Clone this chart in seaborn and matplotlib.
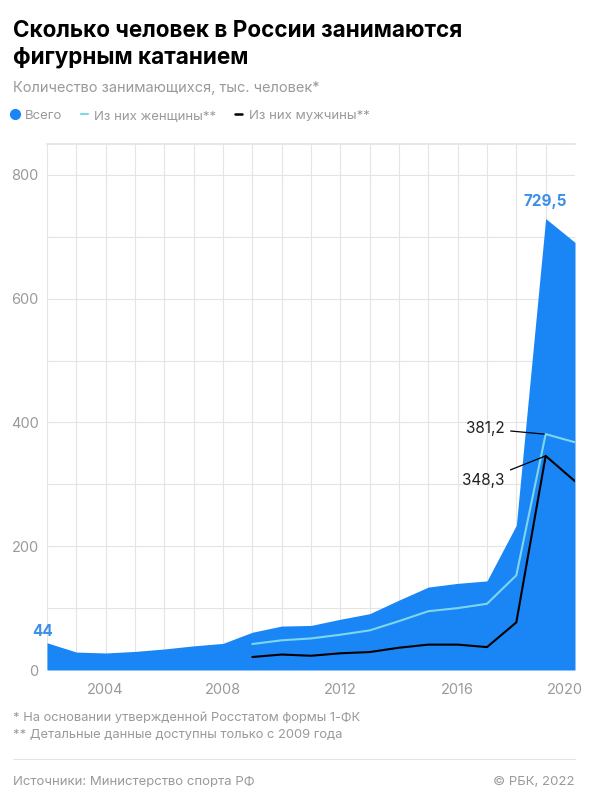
import matplotlib.pyplot as plt
import matplotlib.transforms as mtransforms
import pandas as pd
import seaborn as sns
from matplotlib.lines import Line2D
from matplotlib.ticker import MultipleLocator

years = list(range(2002, 2021))
total = [44, 29, 27.5, 30, 34, 39, 43, 61, 71, 72, 82, 91, 113, 134, 140, 144, 234, 729.5, 691]
years_detail = list(range(2009, 2021))
women = [42, 48, 51, 57, 64, 79, 95, 100, 107, 153, 381.2, 368]
men = [21, 25, 23, 27, 29, 36, 41, 41, 37, 77, 346, 305]
xtick_years = [2004, 2008, 2012, 2016, 2020]

df = pd.DataFrame({'year': years, 'total': total})
df_d = pd.DataFrame({'year': years_detail, 'women': women, 'men': men})

BLUE = '#1a86f6'
CYAN = '#7dd6ea'
GRAY = '#9a9a9a'
GRID = '#e4e4e4'

sns.set_theme(style='white')
plt.rcParams['font.family'] = ['Inter', 'DejaVu Sans']

fig = plt.figure(figsize=(5.9, 8.06), dpi=100)
ax = fig.add_axes([47/590, 1-670/806, (575-47)/590, (670-144)/806])

ax.fill_between(df['year'], df['total'], color=BLUE, lw=0, zorder=2)
sns.lineplot(data=df_d, x='year', y='women', ax=ax, color=CYAN, lw=1.5, zorder=3)
sns.lineplot(data=df_d, x='year', y='men', ax=ax, color='black', lw=1.5, zorder=3)

ax.set_xlim(2002, 2020)
ax.set_ylim(0, 850)
ax.xaxis.set_minor_locator(MultipleLocator(1))
ax.yaxis.set_major_locator(MultipleLocator(200))
ax.yaxis.set_minor_locator(MultipleLocator(100))
ax.set_xticks(xtick_years)
ax.set_xticklabels([str(y) for y in xtick_years])
ax.grid(which='both', color=GRID, lw=0.8, zorder=0)
ax.set_axisbelow(True)
ax.tick_params(which='both', length=0, colors=GRAY, labelsize=10.5)
ax.tick_params(axis='x', pad=9)
ax.tick_params(axis='y', pad=6)
# last year label sits a bit to the left so it stays inside the picture
last = ax.get_xticklabels()[-1]
last.set_transform(last.get_transform() + mtransforms.ScaledTranslation(-10/100, 0, fig.dpi_scale_trans))
for side in ['left', 'right', 'bottom']:
    ax.spines[side].set_visible(False)
ax.spines['top'].set_color(GRID)
ax.set_xlabel('')
ax.set_ylabel('')

ax.text(2001.85, 50, '44', color='#3d8ee6', fontsize=11, fontweight='bold', ha='center', va='bottom')
ax.text(2019, 745, '729,5', color='#3d8ee6', fontsize=11, fontweight='bold', ha='center', va='bottom')
ax.annotate('381,2', xy=(2018.95, 381.2), xytext=(2017.6, 390), fontsize=11, color='#222222',
            ha='right', va='center', arrowprops=dict(arrowstyle='-', color='black', lw=0.9, shrinkA=2, shrinkB=0))
ax.annotate('348,3', xy=(2019.0, 346), xytext=(2017.6, 306), fontsize=11, color='#222222',
            ha='right', va='center', arrowprops=dict(arrowstyle='-', color='black', lw=0.9, shrinkA=2, shrinkB=0))

fig.text(13/590, 1-20/806, 'Сколько человек в России занимаются\nфигурным катанием', fontsize=16.2,
         fontweight='bold', va='top', ha='left', linespacing=1.25, color='black')
fig.text(13/590, 1-88/806, 'Количество занимающихся, тыс. человек*', fontsize=10.5, color=GRAY, va='center')

handles = [Line2D([], [], marker='o', ls='', color=BLUE, markersize=7),
           Line2D([], [], color=CYAN, lw=1.5),
           Line2D([], [], color='black', lw=1.8)]
labels = ['Всего', 'Из них женщины**', 'Из них мужчины**']
leg = fig.legend(handles, labels, loc='center left', bbox_to_anchor=(-1/590, 1-116/806), ncol=3, frameon=False,
                 fontsize=9.5, handlelength=0.55, handletextpad=0.5, columnspacing=1.4, labelcolor=GRAY)

fig.text(13/590, 1-718/806, '* На основании утвержденной Росстатом формы 1-ФК', fontsize=9.3, color=GRAY, va='center')
fig.text(13/590, 1-735/806, '** Детальные данные доступны только с 2009 года', fontsize=9.3, color=GRAY, va='center')
fig.add_artist(Line2D([13/590, 575/590], [1-759/806, 1-759/806], color=GRID, lw=0.8))
fig.text(13/590, 1-782/806, 'Источники: Министерство спорта РФ', fontsize=9.5, color=GRAY, va='center')
fig.text(575/590, 1-782/806, '© РБК, 2022', fontsize=9.5, color=GRAY, va='center', ha='right')

fig.savefig('out.png', dpi=100, facecolor='white')
